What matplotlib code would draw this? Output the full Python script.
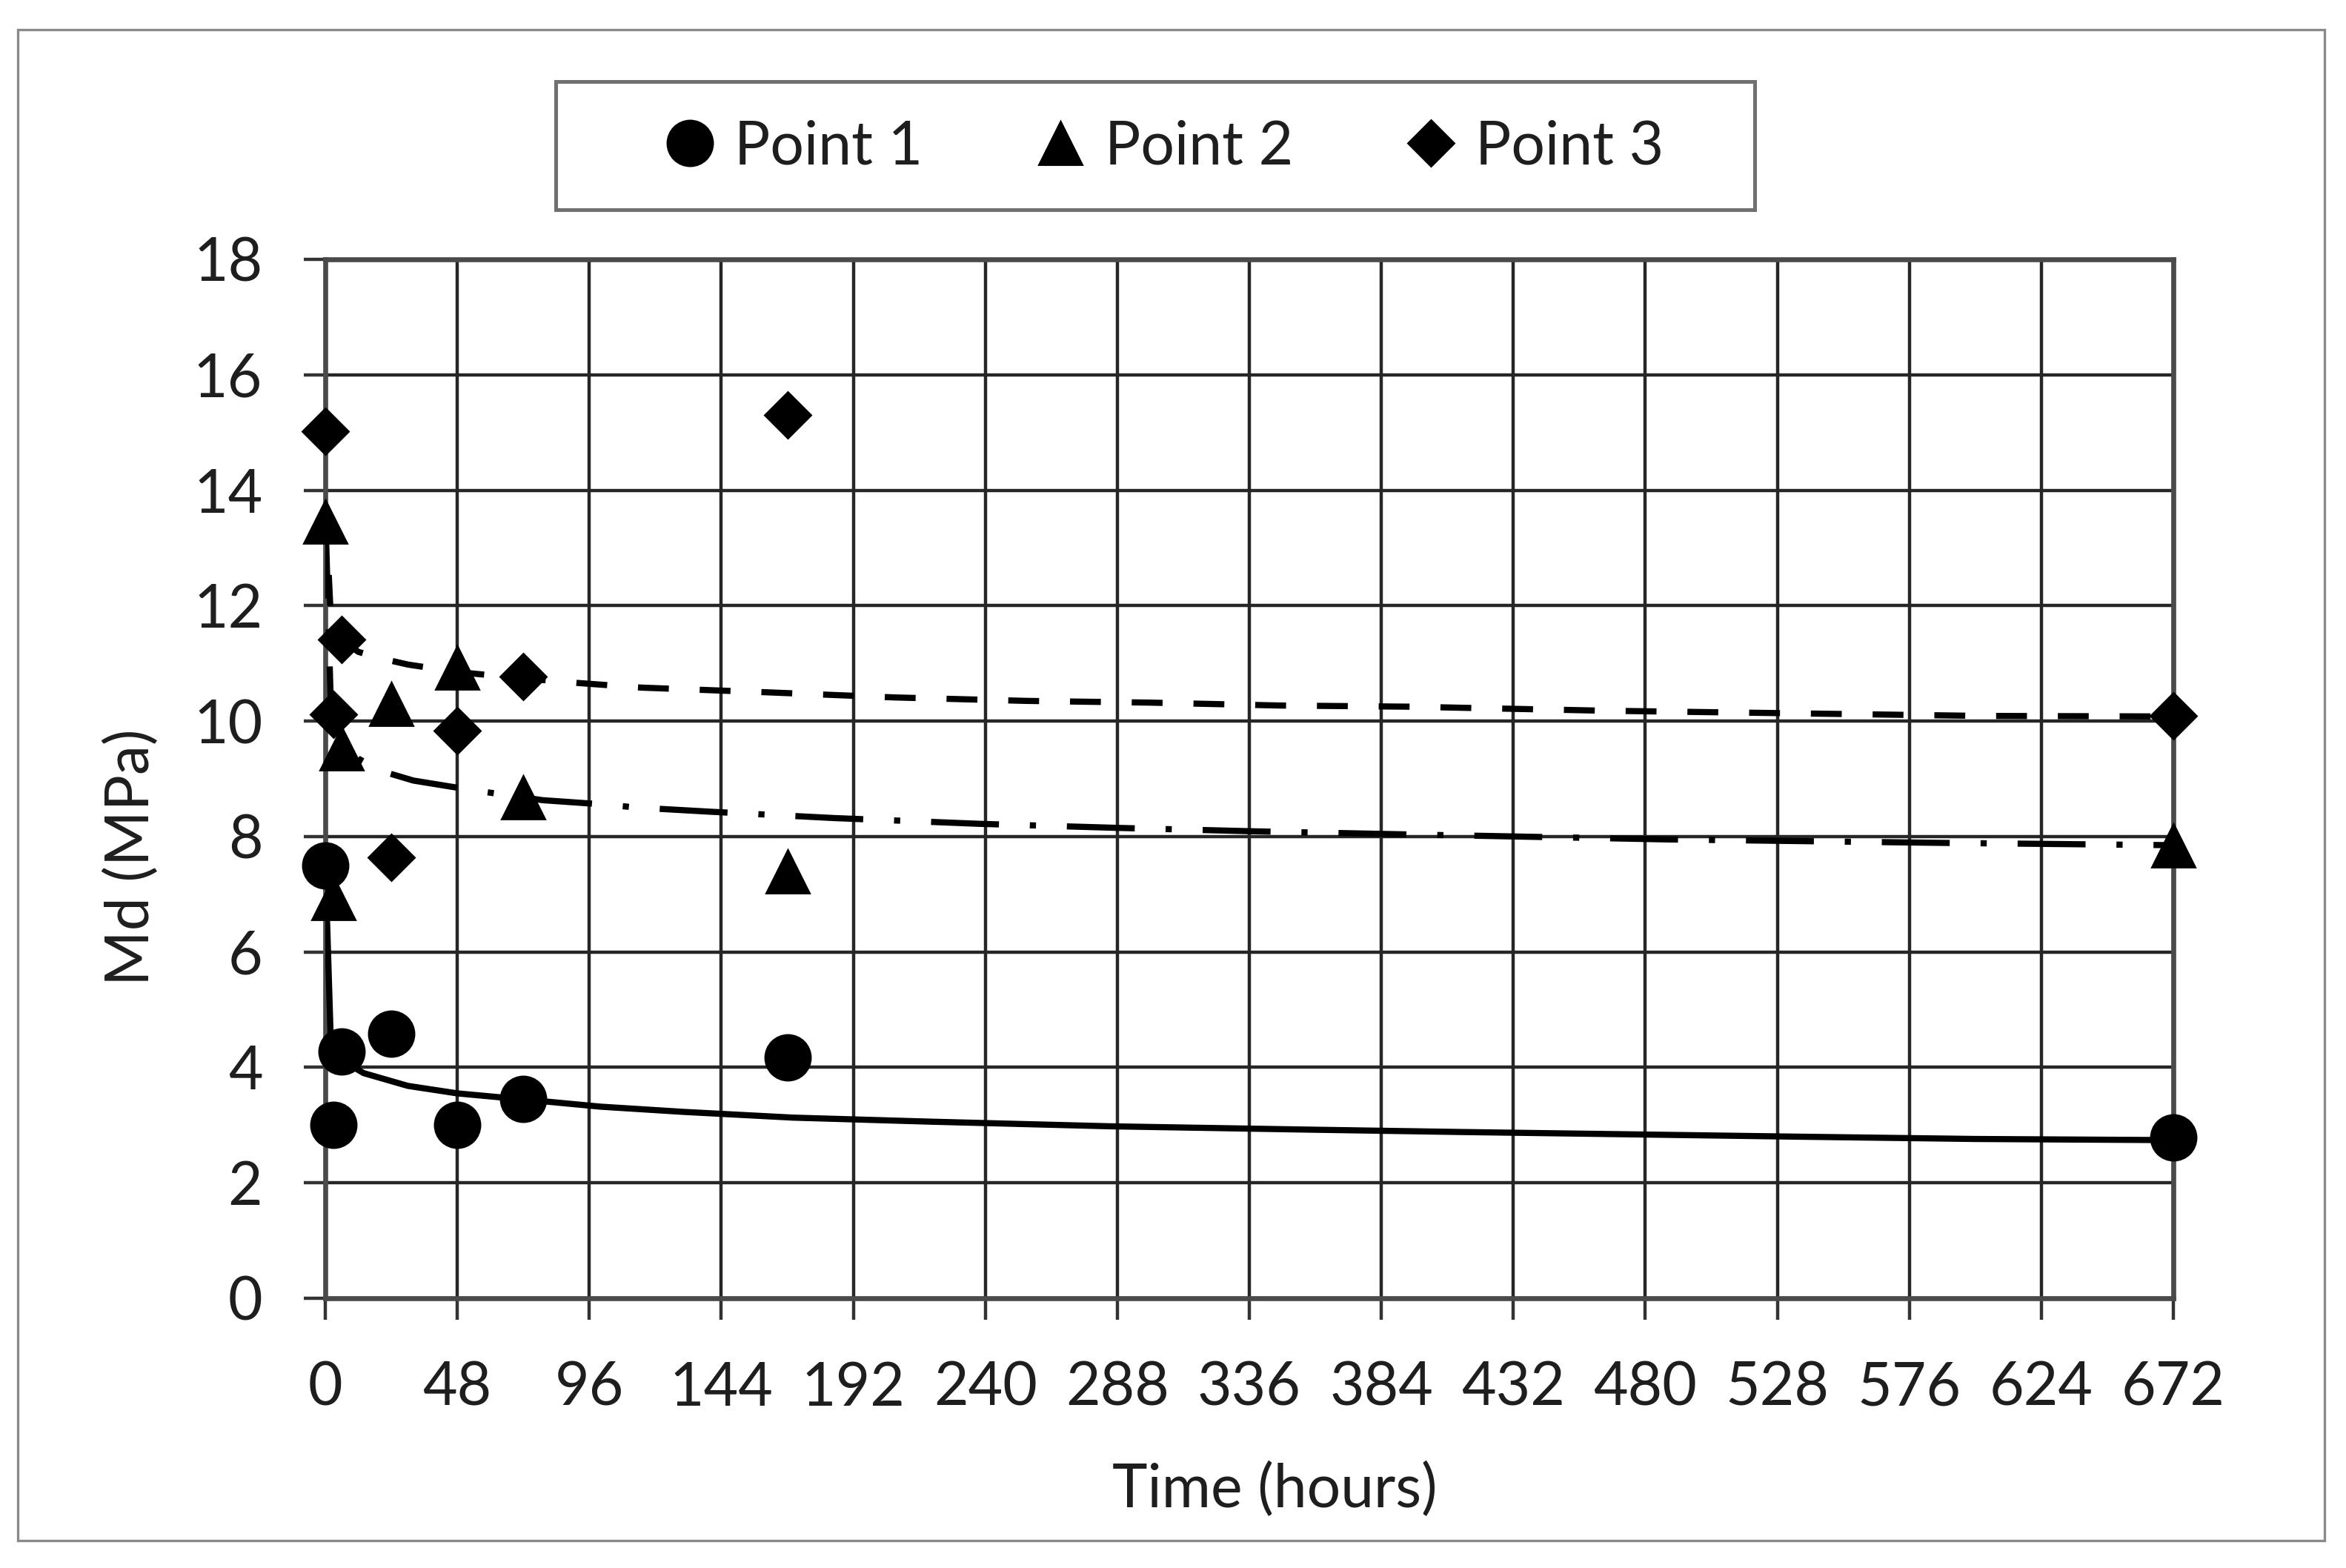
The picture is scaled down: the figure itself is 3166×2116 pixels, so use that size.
import matplotlib.pyplot as plt
from matplotlib.patches import Rectangle

plt.rcParams.update({
    "font.family": ["Lato", "DejaVu Sans"],
    "font.size": 29,
    "text.color": "#1e1e1e",
    "xtick.color": "#333333",
    "ytick.color": "#333333",
    "xtick.labelcolor": "#1e1e1e",
    "ytick.labelcolor": "#1e1e1e",
})

# measured data (time in hours, Md in MPa)
times = [0, 3, 6, 24, 48, 72, 168, 672]
point1 = [7.50, 3.00, 4.27, 4.58, 3.00, 3.45, 4.17, 2.79]
point2 = [13.45, 6.93, 9.53, 10.30, 10.92, 8.68, 7.39, 7.85]
point3 = [15.02, 10.12, 11.41, 7.64, 9.83, 10.77, 15.31, 10.09]

# trend lines
trend1_x = [0.2, 2, 6, 14, 30, 48, 80, 100, 130, 170, 220, 285, 360, 414, 475, 535, 600, 672]
trend1_y = [7.2, 4.45, 4.12, 3.90, 3.68, 3.55, 3.41, 3.32, 3.23, 3.13, 3.06, 2.98, 2.92,
            2.88, 2.84, 2.80, 2.76, 2.74]
trend2_x = [0.2, 2, 6, 12, 20, 32, 54, 79, 100, 114, 140, 185, 238, 288, 338, 390, 488, 588, 672]
trend2_y = [13.3, 10.3, 9.7, 9.35, 9.14, 8.97, 8.80, 8.63, 8.56, 8.50, 8.43, 8.32, 8.22,
            8.15, 8.09, 8.04, 7.95, 7.89, 7.85]
trend3_x = [0.2, 2, 6, 12, 19, 30, 48, 72, 92, 115, 160, 207, 255, 300, 347, 394, 465, 602, 672]
trend3_y = [13.6, 11.8, 11.4, 11.2, 11.1, 10.98, 10.85, 10.74, 10.66, 10.58, 10.50, 10.41,
            10.35, 10.32, 10.27, 10.25, 10.18, 10.09, 10.08]

x_ticks = list(range(0, 673, 48))
y_ticks = list(range(0, 19, 2))

W, H = 3166, 2116
fig = plt.figure(figsize=(W / 200, H / 200), dpi=200)
ax = fig.add_axes([439 / W, 1 - 1752 / H, (2933 - 439) / W, (1752 - 350) / H])

lw = 3.0
ax.plot(trend1_x, trend1_y, color="black", lw=lw, ls="-", zorder=3)
ax.plot(trend2_x, trend2_y, color="black", lw=lw, ls=(0, (11, 5, 1, 5)), zorder=3)
ax.plot(trend3_x, trend3_y, color="black", lw=lw, ls=(0, (5, 5)), zorder=3)

h1, = ax.plot(times, point1, ls="none", marker="o", ms=22, color="black",
              label="Point 1", zorder=4, clip_on=False)
h2, = ax.plot(times, point2, ls="none", marker="^", ms=21, color="black",
              label="Point 2", zorder=4, clip_on=False)
h3, = ax.plot(times, point3, ls="none", marker="D", ms=16, color="black",
              label="Point 3", zorder=4, clip_on=False)

ax.set_xlim(0, 672)
ax.set_ylim(0, 18)
ax.set_xticks(x_ticks)
ax.set_yticks(y_ticks)
ax.tick_params(axis="both", direction="out", length=10.5, width=1.6, labelsize=29)
ax.tick_params(axis="x", pad=20)
ax.tick_params(axis="y", pad=20)
ax.grid(True, color="#262626", lw=1.6)
ax.set_axisbelow(True)
for side in ax.spines.values():
    side.set_color("#4a4a4a")
    side.set_linewidth(2.4)

fig.text(177 / W, 1 - 1157 / H, "Md (MPa)", rotation=90, ha="center", va="center", fontsize=29)
fig.text(1720 / W, 1 - 2010 / H, "Time (hours)", ha="center", va="center", fontsize=29)

# legend box and outer chart border
fig.patches.append(Rectangle((750 / W, 1 - 283 / H), (2368 - 750) / W, (283 - 110) / H,
                             transform=fig.transFigure, facecolor="white",
                             edgecolor="#707070", lw=1.8, zorder=0))
fig.patches.append(Rectangle((24 / W, 1 - 2079 / H), (3137 - 24) / W, (2079 - 40) / H,
                             transform=fig.transFigure, facecolor="none",
                             edgecolor="#8a8a8a", lw=1.2))

fig.legend(handles=[h1, h2, h3], loc="center", bbox_to_anchor=(1572 / W, 1 - 198 / H),
           ncol=3, frameon=False, fontsize=29, handlelength=0.8, handletextpad=0.35,
           columnspacing=1.9, borderaxespad=0)

fig.savefig("out.png", dpi=200)
